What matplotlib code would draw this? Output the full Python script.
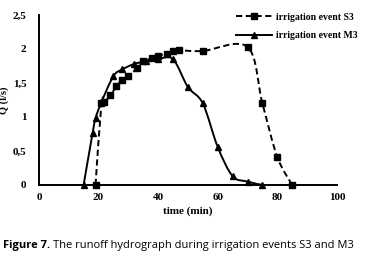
import matplotlib.pyplot as plt
import numpy as np
from matplotlib.lines import Line2D
from matplotlib.patches import PathPatch
from matplotlib.path import Path

# irrigation event S3 (squares, dashed)
s3_time = [19, 21, 22, 24, 26, 28, 30, 33, 35, 38, 40, 43, 45, 47, 55, 70, 75, 80, 85]
s3_q = [0, 1.2, 1.22, 1.32, 1.45, 1.55, 1.6, 1.72, 1.82, 1.86, 1.9, 1.93, 1.97, 1.98,
        1.97, 2.03, 1.2, 0.41, 0]

# irrigation event M3 (triangles, solid)
m3_time = [15, 18, 19, 21, 25, 28, 32, 36, 40, 45, 50, 55, 60, 65, 70, 75]
m3_q = [0, 0.76, 0.98, 1.22, 1.6, 1.7, 1.78, 1.82, 1.85, 1.85, 1.44, 1.2, 0.56, 0.13,
        0.05, 0]

x_ticks = [0, 20, 40, 60, 80, 100]
y_ticks = [0, 0.5, 1, 1.5, 2, 2.5]
y_labels = ["0", "0,5", "1", "1,5", "2", "2,5"]

serif = "Liberation Serif"


def smooth_path(xs, ys):
    # excel-like smoothed line through the points (catmull-rom as bezier)
    p = np.column_stack([xs, ys]).astype(float)
    verts = [p[0]]
    codes = [Path.MOVETO]
    n = len(p)
    for i in range(n - 1):
        p0 = p[i - 1] if i > 0 else p[i]
        p1, p2 = p[i], p[i + 1]
        p3 = p[i + 2] if i + 2 < n else p[i + 1]
        c1 = p1 + (p2 - p0) / 6.0
        c2 = p2 - (p3 - p1) / 6.0
        verts += [c1, c2, p2]
        codes += [Path.CURVE4] * 3
    return Path(verts, codes)


fig = plt.figure(figsize=(3.67, 2.58), dpi=100)
ax = fig.add_axes([0.106, 0.283, 0.812, 0.659])

ax.add_patch(PathPatch(smooth_path(s3_time, s3_q), fill=False, lw=1.4,
                       ls=(0, (3.2, 1.8)), ec="black", capstyle="butt"))
ax.add_patch(PathPatch(smooth_path(m3_time, m3_q), fill=False, lw=1.4,
                       ec="black"))
ax.plot(s3_time, s3_q, ls="none", marker="s", ms=5, color="black", clip_on=False)
ax.plot(m3_time, m3_q, ls="none", marker="^", ms=5, color="black", clip_on=False)

ax.set_xlim(0, 100)
ax.set_ylim(0, 2.5)
ax.set_xticks(x_ticks)
ax.set_yticks(y_ticks)
ax.set_yticklabels(y_labels)
for s in ["top", "right"]:
    ax.spines[s].set_visible(False)
for s in ["left", "bottom"]:
    ax.spines[s].set_linewidth(1.4)
ax.tick_params(length=0, labelsize=8)
ax.tick_params(axis="y", pad=9)
ax.tick_params(axis="x", pad=6)
for lab in ax.get_xticklabels() + ax.get_yticklabels():
    lab.set_fontfamily(serif)
    lab.set_fontweight("bold")

ax.set_xlabel("time (min)", fontfamily=serif, fontweight="bold", fontsize=8,
              labelpad=3)
ax.set_ylabel("Q (l/s)", fontfamily=serif, fontweight="bold", fontsize=7.5)
ax.yaxis.set_label_coords(-0.1, 0.5)

handles = [
    Line2D([], [], color="black", lw=1.4, ls=(0, (3.2, 1.8)), marker="s", ms=5),
    Line2D([], [], color="black", lw=1.4, marker="^", ms=5),
]
ax.legend(handles, ["irrigation event S3", "irrigation event M3"],
          loc="upper right", bbox_to_anchor=(1.1, 1.065), frameon=False,
          prop={"family": serif, "weight": "bold", "size": 7},
          handlelength=3.7, handletextpad=0.4, labelspacing=1.0)

# caption: bold "Figure 7." followed by regular text
fig.canvas.draw()
cap1 = fig.text(0.008, 0.04, "Figure 7.", fontfamily="Open Sans",
                fontweight="bold", fontsize=8, ha="left", va="baseline")
bb = cap1.get_window_extent(fig.canvas.get_renderer())
x2 = (bb.x1 + 3) / fig.bbox.width
fig.text(x2, 0.04, "The runoff hydrograph during irrigation events S3 and M3",
         fontfamily="Open Sans", fontsize=8, ha="left", va="baseline")

fig.savefig("out.png", dpi=100)
